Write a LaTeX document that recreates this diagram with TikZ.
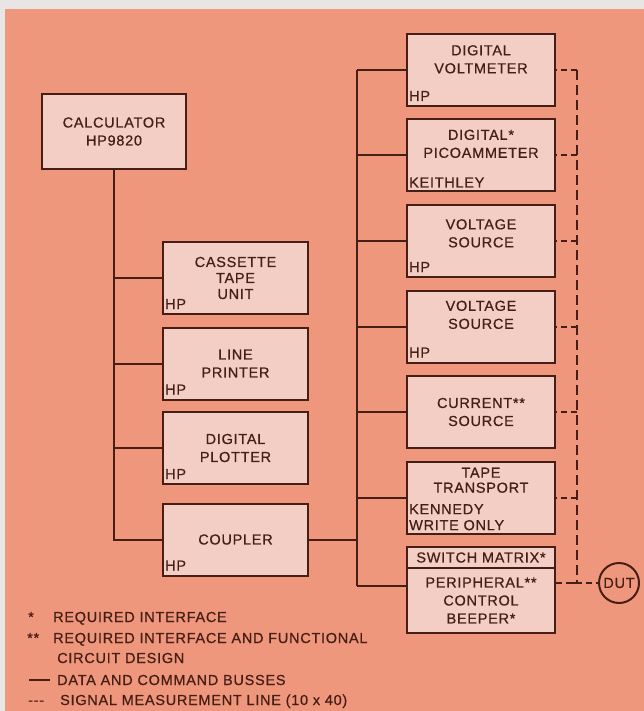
\documentclass[tikz,border=0pt]{standalone}
\usepackage{fontspec}
\setmainfont{Liberation Sans}[LetterSpace=5, FakeBold=0.6]
\usetikzlibrary{positioning}

\definecolor{paper}{RGB}{232,229,229}
\definecolor{salmon}{RGB}{239,151,124}
\definecolor{boxpink}{RGB}{243,206,196}
\definecolor{ink}{RGB}{70,30,22}

\begin{document}
\begin{tikzpicture}[
        x=1pt, y=-1pt,
        font=\fontsize{14.5}{18}\selectfont,
        text=ink,
        unit/.style={rectangle, draw=ink, fill=boxpink, line width=2pt,
                     minimum width=145pt, minimum height=72pt, align=center, inner sep=0pt},
        rightunit/.style={unit, minimum width=148pt},
        title/.style={anchor=north, align=center, inner sep=0pt},
        maker/.style={anchor=base west, inner sep=0pt},
        legend/.style={anchor=base west, inner sep=0pt},
        bus/.style={draw=ink, line width=2pt},
        signal/.style={draw=ink, line width=2pt, dash pattern=on 6pt off 4pt},
    ]
        % page and background
        \fill[paper] (0,0) rectangle (644,711);
        \fill[salmon] (5,9) rectangle (644,711);
        \useasboundingbox (0,0) rectangle (644,711);

        % calculator side
        \node[unit, minimum width=144pt, minimum height=75pt] (calc) at (114,131.5) {CALCULATOR\\HP9820};
        \node[unit, font=\fontsize{14.5}{16}\selectfont] (cassette) at (235.5,278) {CASSETTE\\TAPE\\UNIT};
        \node[unit, below=11.5pt of cassette] (printer) {LINE\\PRINTER};
        \node[unit, below=10.5pt of printer] (plotter) {DIGITAL\\PLOTTER};
        \node[unit, below=17.5pt of plotter] (coupler) {COUPLER};

        \node[maker] (cassette-hp) at ([xshift=3pt,yshift=6pt]cassette.south west) {HP};
        \node[maker] (printer-hp) at ([xshift=3pt,yshift=6pt]printer.south west) {HP};
        \node[maker] (plotter-hp) at ([xshift=3pt,yshift=6pt]plotter.south west) {HP};
        \node[maker] (coupler-hp) at ([xshift=3pt,yshift=6pt]coupler.south west) {HP};

        % instruments
        \node[rightunit] (dvm) at (481,70) {};
        \node[rightunit, below=11.5pt of dvm] (pico) {};
        \node[rightunit, below=11.5pt of pico] (vsrca) {};
        \node[rightunit, below=11.5pt of vsrca] (vsrcb) {};
        \node[rightunit, below=11.5pt of vsrcb] (isrc) {CURRENT**\\SOURCE};
        \node[rightunit, below=11.5pt of isrc] (tape) {};
        \node[rightunit, minimum height=21pt, below=11.5pt of tape] (switch) {SWITCH MATRIX*};
        \node[rightunit, minimum height=65pt, below=-2pt of switch] (periph) {PERIPHERAL**\\CONTROL\\BEEPER*};

        \node[title] (dvm-title) at ([yshift=-12pt]dvm.north) {DIGITAL\\VOLTMETER};
        \node[title] (pico-title) at ([yshift=-11pt]pico.north) {DIGITAL*\\PICOAMMETER};
        \node[title] (vsrca-title) at ([yshift=-15pt]vsrca.north) {VOLTAGE\\SOURCE};
        \node[title] (vsrcb-title) at ([yshift=-11pt]vsrcb.north) {VOLTAGE\\SOURCE};
        \node[title, font=\fontsize{14.5}{15}\selectfont] (tape-title) at ([yshift=-7pt]tape.north) {TAPE\\TRANSPORT};

        \node[maker] (dvm-hp) at ([xshift=3pt,yshift=6pt]dvm.south west) {HP};
        \node[maker] (pico-keithley) at ([xshift=3pt,yshift=5pt]pico.south west) {KEITHLEY};
        \node[maker] (vsrca-hp) at ([xshift=3pt,yshift=6pt]vsrca.south west) {HP};
        \node[maker] (vsrcb-hp) at ([xshift=3pt,yshift=6pt]vsrcb.south west) {HP};
        \node[anchor=south west, align=left, inner sep=0pt, font=\fontsize{14.5}{16}\selectfont]
            (tape-kennedy) at ([xshift=3pt,yshift=4pt]tape.south west) {KENNEDY\\WRITE ONLY};

        \node[circle, draw=ink, line width=2pt, minimum size=40pt, inner sep=0pt] (dut) at (619,583) {DUT};

        % data and command busses
        \coordinate (busx) at (357,0);
        \coordinate (tap) at ([yshift=14.5pt]periph.west);
        \draw[bus] (calc.south) |- (coupler.west);
        \foreach \n in {cassette,printer,plotter}
            \draw[bus] (calc.south |- \n.west) -- (\n.west);
        \draw[bus] (coupler.east) -- (coupler.east -| busx);
        \draw[bus] (busx |- dvm.west) -- (busx |- tap);
        \foreach \n in {dvm,pico,vsrca,vsrcb,isrc,tape}
            \draw[bus] (busx |- \n.west) -- (\n.west);
        \draw[bus] (busx |- tap) -- (tap);

        % signal measurement line
        \coordinate (sigx) at (577,0);
        \draw[signal, dash pattern=on 10pt off 5pt] (sigx |- dvm.east) -- (sigx |- dut.west);
        \foreach \n in {dvm,pico,vsrca,vsrcb,isrc,tape}
            \draw[signal] (sigx |- \n.east) -- (\n.east);
        \draw[signal] (periph.east |- dut.west) -- (dut.west);
        \draw[bus] ([xshift=-5pt]sigx |- dut.west) -- ([xshift=5pt]sigx |- dut.west);

        % legend
        \node[legend] (key-one) at (28,622) {*};
        \node[legend] (key-one-text) at (53,622) {REQUIRED INTERFACE};
        \node[legend] (key-two) at (27,643) {**};
        \node[legend] (key-two-text) at (53,643) {REQUIRED INTERFACE AND FUNCTIONAL};
        \node[legend] (key-two-more) at (57,663) {CIRCUIT DESIGN};
        \node[legend] (key-three) at (29,685) {\rule[4.5pt]{21pt}{1.4pt}};
        \node[legend] (key-three-text) at (57,685) {DATA AND COMMAND BUSSES};
        \node[legend] (key-four) at (28,705) {-{}-{}-};
        \node[legend] (key-four-text) at (60,705) {SIGNAL MEASUREMENT LINE (10 x 40)};
    \end{tikzpicture}
\end{document}
